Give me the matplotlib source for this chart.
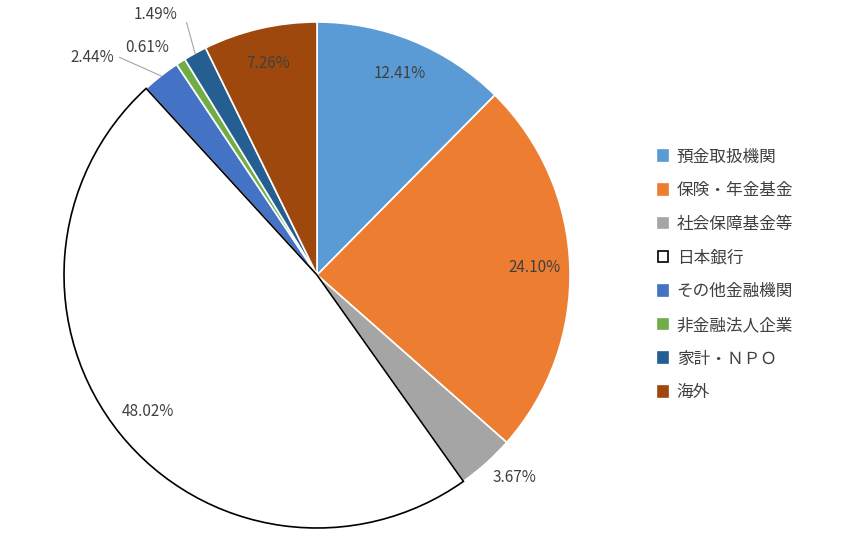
import numpy as np
import matplotlib.pyplot as plt

categories = ['預金取扱機関', '保険・年金基金', '社会保障基金等', '日本銀行',
              'その他金融機関', '非金融法人企業', '家計・ＮＰＯ', '海外']
shares = [12.41, 24.10, 3.67, 48.02, 2.44, 0.61, 1.49, 7.26]
colors = ['#5B9BD5', '#ED7D31', '#A5A5A5', '#FFFFFF',
          '#4472C4', '#70AD47', '#255E91', '#9E480E']

plt.rcParams['font.family'] = 'Noto Sans CJK JP'

fig = plt.figure(figsize=(8.41, 5.39), dpi=100)
ax = fig.add_axes([0.0761, 0.0204, 0.6017, 0.9388])

wedges, _ = ax.pie(shares, colors=colors, startangle=90, counterclock=False,
                   radius=1, wedgeprops=dict(edgecolor='white', linewidth=1.2))
wedges[3].set_edgecolor('black')
wedges[3].set_linewidth(1.2)
wedges[3].set_zorder(3)

# label positions (radius factor, or explicit offsets for the small slices)
outside = {2: (0.78, -0.80), 4: (-0.89, 0.86), 5: (-0.67, 0.90), 6: (-0.64, 1.03)}
for i, (w, v) in enumerate(zip(wedges, shares)):
    ang = np.deg2rad((w.theta1 + w.theta2) / 2)
    if i in outside:
        x, y = outside[i]
    else:
        x, y = 0.86 * np.cos(ang), 0.86 * np.sin(ang)
    ax.text(x, y, f'{v:.2f}%', ha='center', va='center', fontsize=11, color='#404040')
    if i in (4, 6):
        ex, ey = np.cos(ang), np.sin(ang)
        if i == 4:
            ax.plot([-0.78, ex * 1.0], [0.86, ey * 1.0], color='#A5A5A5', lw=0.8)
        else:
            ax.plot([-0.55, -0.53, ex], [1.05, 1.05, ey], color='#A5A5A5', lw=0.8)

ax.set_xlim(-1, 1)
ax.set_ylim(-1, 1)
ax.set_aspect('equal')
ax.axis('off')

handles = []
for c in colors:
    handles.append(plt.Rectangle((0, 0), 1, 1, facecolor=c,
                                 edgecolor='black' if c == '#FFFFFF' else c, lw=1.2))
fig.legend(handles, categories, loc='center left', bbox_to_anchor=(0.765, 0.49),
           frameon=False, fontsize=12, labelspacing=1.0, handlelength=0.6,
           handleheight=0.6, handletextpad=0.5, labelcolor='#404040')

fig.savefig('out.png', dpi=100)
